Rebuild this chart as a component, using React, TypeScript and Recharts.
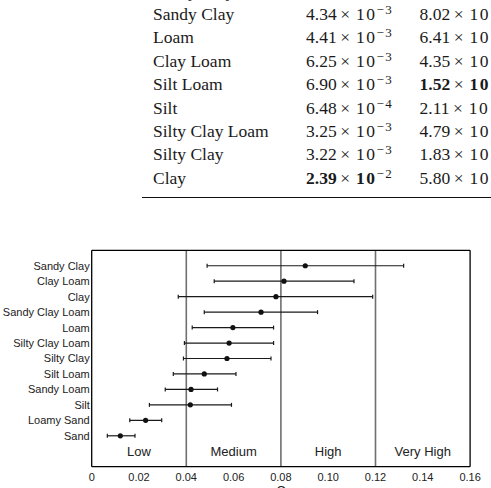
import React from 'react'
import { ScatterChart, Scatter, XAxis, YAxis, ErrorBar, ReferenceLine, ReferenceArea } from 'recharts'

// soil classes, top row of the plot first
const soils = [
  'Sandy Clay',
  'Clay Loam',
  'Clay',
  'Sandy Clay Loam',
  'Loam',
  'Silty Clay Loam',
  'Silty Clay',
  'Silt Loam',
  'Sandy Loam',
  'Silt',
  'Loamy Sand',
  'Sand',
]
const meanC = [0.0903, 0.0813, 0.0779, 0.0716, 0.0597, 0.0581, 0.0572, 0.0476, 0.042, 0.0417, 0.0228, 0.0121]
const minC = [0.0488, 0.0518, 0.0366, 0.0476, 0.0425, 0.0392, 0.0388, 0.0345, 0.0311, 0.0244, 0.0161, 0.0066]
const maxC = [0.1319, 0.1109, 0.1188, 0.0955, 0.0769, 0.0769, 0.0758, 0.061, 0.0532, 0.0591, 0.0296, 0.0183]

const xTicks = [0, 0.02, 0.04, 0.06, 0.08, 0.1, 0.12, 0.14, 0.16]
const thresholds = [0.04, 0.08, 0.12]
const bandEdges = [0, 0.04, 0.08, 0.12, 0.16]
const bandNames = ['Low', 'Medium', 'High', 'Very High']

// table rows above the figure (right column is cut by the page edge)
const tableSoils = ['Sandy Clay Loam', 'Sandy Clay', 'Loam', 'Clay Loam', 'Silt Loam', 'Silt', 'Silty Clay Loam', 'Silty Clay', 'Clay']
const colA = ['', '4.34', '4.41', '6.25', '6.90', '6.48', '3.25', '3.22', '2.39']
const expA = ['', '−3', '−3', '−3', '−3', '−4', '−3', '−3', '−2']
const colB = ['', '8.02', '6.41', '4.35', '1.52', '2.11', '4.79', '1.83', '5.80']
const boldA = ['Clay']
const boldB = ['Silt Loam']

const serif = '"Liberation Serif", "Times New Roman", serif'
const sans = '"Liberation Sans", Arial, Helvetica, sans-serif'

const points = soils.map((name, i) => ({
  name,
  x: meanC[i],
  y: soils.length + 1 - i,
  errX: [meanC[i] - minC[i], maxC[i] - meanC[i]],
}))
const yTicks = points.map((p) => p.y)

const fmtX = (v: number) => (v === 0 ? '0' : v.toFixed(2))
const fmtSoil = (v: number) => soils[soils.length + 1 - v] ?? ''
const blank = () => ''

function Sci({ m, e, bold }: { m: string; e?: string; bold?: boolean }) {
  const w = bold ? 700 : 400
  return (
    <>
      <span style={{ fontWeight: w }}>{m}</span>
      <span style={{ margin: '0 6px 0 3.5px' }}>×</span>
      <span style={{ fontWeight: w, letterSpacing: 1.5 }}>10</span>
      {e ? (
        <span style={{ fontSize: 13, letterSpacing: 1.5, position: 'relative', top: -6 }}>{e}</span>
      ) : null}
    </>
  )
}

const Dot = (p: any) => <circle cx={p.cx} cy={p.cy} r={2.6} fill="#111" />

const SoilTick = (p: any) => (
  <text x={p.x} y={p.y} dy="0.36em" textAnchor="end" fill="#222" fontSize={11} fontFamily={sans}>
    {fmtSoil(p.payload.value)}
  </text>
)

export default function App() {
  const axisLine = { stroke: '#000', strokeWidth: 1.3 }
  const tickLine = { stroke: '#000', strokeWidth: 1 }

  return (
    <div
      style={{
        position: 'fixed',
        left: 0,
        top: 0,
        width: 491,
        height: 488,
        overflow: 'hidden',
        background: '#fff',
      }}
    >
      <div style={{ position: 'absolute', left: 0, top: -20.3, width: 491, fontFamily: serif, fontSize: 17.5, color: '#1a1a1a' }}>
        {tableSoils.map((s, i) => (
          <div key={s} style={{ position: 'relative', height: 23.4, lineHeight: '23.4px', whiteSpace: 'nowrap' }}>
            <span style={{ position: 'absolute', left: 153 }}>{s}</span>
            {colA[i] ? (
              <span style={{ position: 'absolute', left: 306 }}>
                <Sci m={colA[i]} e={expA[i]} bold={boldA.includes(s)} />
              </span>
            ) : null}
            {colB[i] ? (
              <span style={{ position: 'absolute', left: 419.5 }}>
                <Sci m={colB[i]} bold={boldB.includes(s)} />
              </span>
            ) : null}
          </div>
        ))}
      </div>
      <div style={{ position: 'absolute', left: 141.7, top: 197, width: 360, height: 1.3, background: '#111' }} />

      <div style={{ position: 'absolute', left: 0, top: 240 }}>
        <ScatterChart width={491} height={262} margin={{ top: 10.3, right: 20.9, bottom: 5.3, left: 0 }} style={{ fontFamily: sans }}>
          <XAxis
            dataKey="x"
            type="number"
            domain={[0, 0.16]}
            ticks={xTicks}
            interval={0}
            height={30}
            tickSize={0}
            tickMargin={6}
            tickLine={false}
            axisLine={axisLine}
            tickFormatter={fmtX}
            tick={{ fill: '#222', fontSize: 11 }}
            label={{ value: 'C', position: 'insideBottom', offset: 1.4, fill: '#222', fontSize: 13 }}
          />
          <XAxis
            xAxisId="top"
            orientation="top"
            mirror
            type="number"
            domain={[0, 0.16]}
            ticks={xTicks}
            interval={0}
            height={10}
            tickSize={3}
            tickLine={tickLine}
            axisLine={axisLine}
            tickFormatter={blank}
          />
          <XAxis
            xAxisId="bm"
            orientation="bottom"
            mirror
            type="number"
            domain={[0, 0.16]}
            ticks={xTicks}
            interval={0}
            height={10}
            tickSize={3}
            tickLine={tickLine}
            axisLine={false}
            tickFormatter={blank}
          />
          <YAxis
            dataKey="y"
            type="number"
            domain={[0, 14]}
            ticks={yTicks}
            interval={0}
            width={91.7}
            tickSize={0}
            tickMargin={2}
            tickLine={false}
            axisLine={axisLine}
            tick={SoilTick}
          />
          <YAxis
            yAxisId="lm"
            orientation="left"
            mirror
            type="number"
            domain={[0, 14]}
            ticks={yTicks}
            interval={0}
            width={10}
            tickSize={3.5}
            tickLine={tickLine}
            axisLine={false}
            tickFormatter={blank}
          />
          <YAxis
            yAxisId="r"
            orientation="right"
            mirror
            type="number"
            domain={[0, 14]}
            ticks={yTicks}
            interval={0}
            width={10}
            tickSize={3.5}
            tickLine={tickLine}
            axisLine={axisLine}
            tickFormatter={blank}
          />
          {bandNames.map((b, i) => (
            <ReferenceArea
              key={b}
              x1={bandEdges[i]}
              x2={bandEdges[i + 1]}
              fill="none"
              fillOpacity={0}
              stroke="none"
              label={{ value: b, position: 'insideBottom', offset: 11.2, fill: '#222', fontSize: 13 }}
            />
          ))}
          {thresholds.map((t) => (
            <ReferenceLine key={t} x={t} stroke="#6f6f6f" strokeWidth={1.6} />
          ))}
          <Scatter data={points} isAnimationActive={false} shape={Dot}>
            <ErrorBar dataKey="errX" direction="x" width={2} stroke="#1a1a1a" strokeWidth={1.2} isAnimationActive={false} />
          </Scatter>
        </ScatterChart>
      </div>
    </div>
  )
}
